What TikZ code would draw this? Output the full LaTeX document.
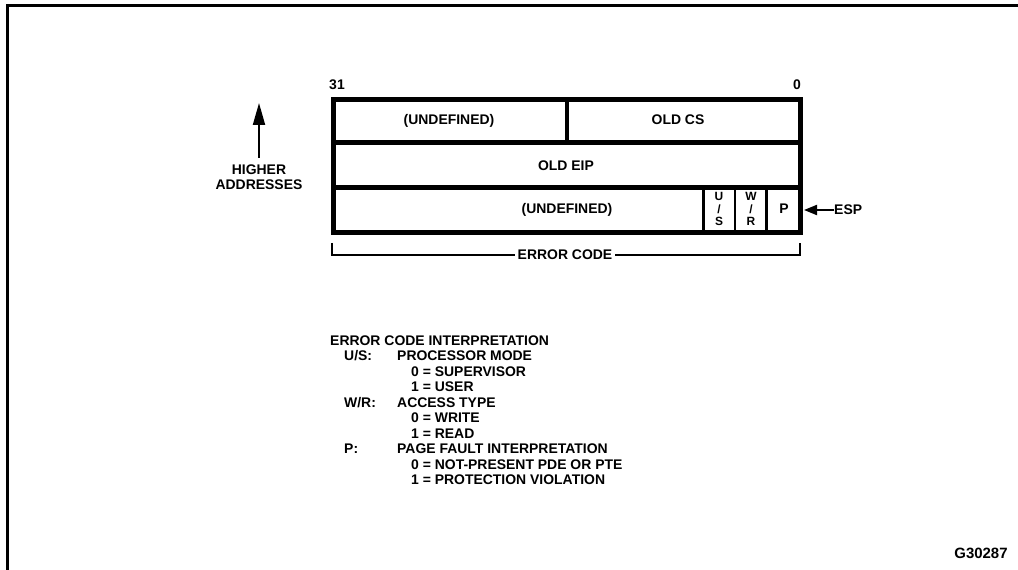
\documentclass[tikz,border=0pt]{standalone}
\usepackage{fontspec}
\setmainfont{Liberation Sans}
\usetikzlibrary{arrows.meta}
\begin{document}
\begin{tikzpicture}[x=1bp,y=-1bp,line join=miter,
  lbl/.style={font=\bfseries\fontsize{14}{15}\selectfont,text height=10bp,text depth=0bp,inner sep=0pt},
  bitlbl/.style={font=\bfseries\fontsize{12}{12.5}\selectfont,align=center,inner sep=0pt},
  heavy/.style={line width=5bp},
  thin/.style={line width=2.5bp},
  upptr/.style={-{Triangle[length=22bp,width=12bp]},line width=2bp},
  espptr/.style={-{Triangle[length=13bp,width=10bp]},line width=2bp},]
\useasboundingbox (0,0) rectangle (1018,570);
%% frame
\draw [line width=3bp] (1018,6) -- (7,6) -- (7,570);
%% stack frame
\draw [heavy] (333,99.5) rectangle (800,232.5);
\draw [heavy] (333,142.5) -- (800,142.5);
\draw [heavy] (333,187.5) -- (800,187.5);
\draw [line width=4bp] (566.5,99.5) -- (566.5,142.5);
\draw [thin] (703.5,187.5) -- (703.5,232.5);
\draw [thin] (735,187.5) -- (735,232.5);
\draw [thin] (766.5,187.5) -- (766.5,232.5);
%%
\node (bit_31) at (337,85) [lbl] {31};
  \node (bit_0) at (797,85) [lbl] {0};
  \node (field_undef_hi) at (449,120) [lbl] {(UNDEFINED)};
  \node (field_cs) at (678,120) [lbl] {OLD CS};
  \node (field_eip) at (566,166) [lbl] {OLD EIP};
  \node (field_undef_lo) at (567,209) [lbl] {(UNDEFINED)};
  \node (field_us) at (719,209) [bitlbl] {U\\/\\S};
  \node (field_wr) at (751,209) [bitlbl] {W\\/\\R};
  \node (field_p) at (784,209) [lbl] {P};
  \node (esp) at (834,210) [lbl,anchor=west] {ESP};
  \coordinate (esp_tip) at (804,210);
  \draw [espptr] (esp.west) -- (esp_tip);
%% higher addresses
\node (higher) at (259,158) [font=\bfseries\fontsize{14}{15}\selectfont,align=center,anchor=north,inner xsep=0pt,inner ysep=7bp] {HIGHER\\ADDRESSES};
  \coordinate (higher_tip) at (259,103);
  \draw [upptr] (higher.north) -- (higher_tip);
%% error code bracket
\node (errcode) at (565,255) [lbl,fill=white,inner xsep=3bp] {ERROR CODE};
  \coordinate (errcode_l) at (332,243);
  \coordinate (errcode_r) at (800,243);
  \draw [line width=2bp] (errcode_l) |- (errcode.west);
  \draw [line width=2bp] (errcode.east) -| (errcode_r);
%% interpretation
\node (line_0) at (330,340) [lbl,anchor=west] {ERROR CODE INTERPRETATION};
  \node (line_1) at (344,355.5) [lbl,anchor=west] {U/S:};
  \node (line_1b) at (397,355.5) [lbl,anchor=west] {PROCESSOR MODE};
  \node (line_2) at (411,371) [lbl,anchor=west] {0 = SUPERVISOR};
  \node (line_3) at (411,386.5) [lbl,anchor=west] {1 = USER};
  \node (line_4) at (344,402) [lbl,anchor=west] {W/R:};
  \node (line_4b) at (397,402) [lbl,anchor=west] {ACCESS TYPE};
  \node (line_5) at (411,417.5) [lbl,anchor=west] {0 = WRITE};
  \node (line_6) at (411,433) [lbl,anchor=west] {1 = READ};
  \node (line_7) at (344,448.5) [lbl,anchor=west] {P:};
  \node (line_7b) at (397,448.5) [lbl,anchor=west] {PAGE FAULT INTERPRETATION};
  \node (line_8) at (411,464) [lbl,anchor=west] {0 = NOT-PRESENT PDE OR PTE};
  \node (line_9) at (411,479.5) [lbl,anchor=west] {1 = PROTECTION VIOLATION};
%%
\node (figno) at (981,553) [lbl,font=\bfseries\fontsize{15}{16}\selectfont] {G30287};
%
\end{tikzpicture}
\end{document}
